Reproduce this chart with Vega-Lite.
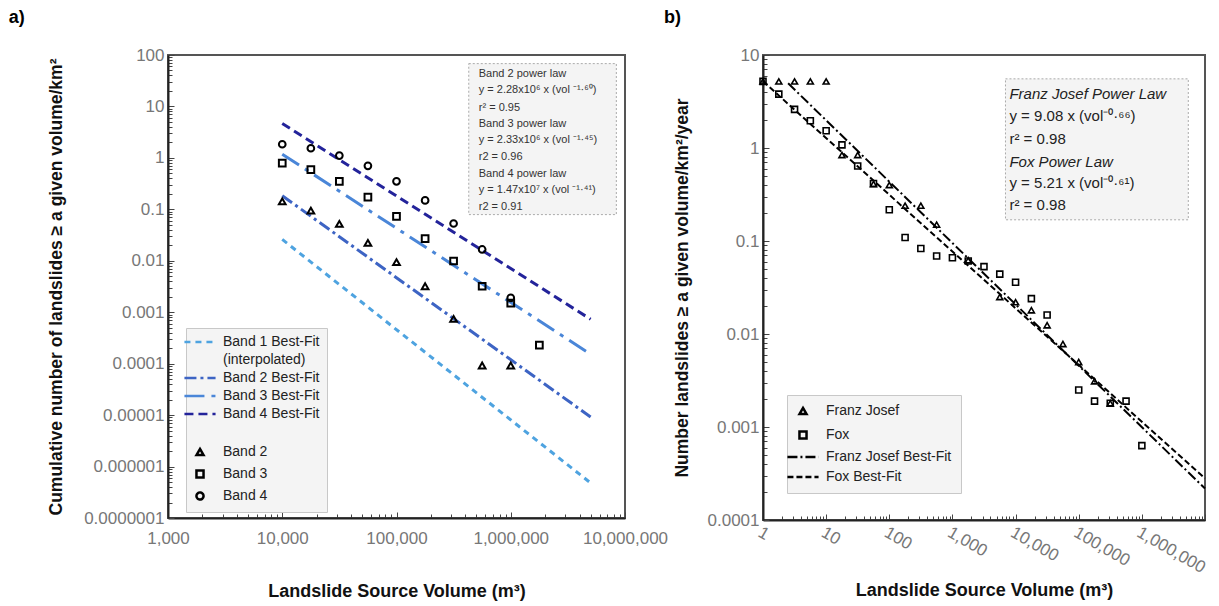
{
  "$schema": "https://vega.github.io/schema/vega-lite/v6.json",
  "background": "white",
  "padding": {"left": 7, "top": 8, "right": 5, "bottom": 5},
  "bounds": "flush",
  "spacing": 138,
  "resolve": {
    "scale": {"x": "independent", "y": "independent", "color": "independent", "shape": "independent", "strokeDash": "independent"},
    "legend": {"color": "independent", "shape": "independent", "strokeDash": "independent"}
  },
  "config": {
    "font": "Liberation Sans",
    "view": {"stroke": "#555", "strokeWidth": 2},
    "axis": {
      "grid": false,
      "labelColor": "#777",
      "labelFontSize": 17,
      "titleFontSize": 17.5,
      "titleFontWeight": "bold",
      "titleColor": "#111",
      "domainColor": "#222",
      "domainWidth": 2,
      "tickColor": "#444",
      "tickWidth": 1,
      "labelOverlap": false,
      "labelFlush": false
    },
    "legend": {
      "labelFont": "Liberation Sans",
      "labelColor": "#222",
      "labelFontSize": 14,
      "symbolStrokeWidth": 2.5,
      "symbolSize": 50
    },
    "title": {"fontSize": 18, "fontWeight": "bold", "color": "#000"}
  },
  "datasets": {
    "a_pts": [
      {"entry": "Band 4", "vol": 10000, "n": 1.84},
      {"entry": "Band 4", "vol": 17800, "n": 1.54},
      {"entry": "Band 4", "vol": 31600, "n": 1.11},
      {"entry": "Band 4", "vol": 56200, "n": 0.70},
      {"entry": "Band 4", "vol": 100000, "n": 0.35},
      {"entry": "Band 4", "vol": 178000, "n": 0.149},
      {"entry": "Band 4", "vol": 316000, "n": 0.053},
      {"entry": "Band 4", "vol": 562000, "n": 0.0166},
      {"entry": "Band 4", "vol": 1000000, "n": 0.0019},
      {"entry": "Band 3", "vol": 10000, "n": 0.79},
      {"entry": "Band 3", "vol": 17800, "n": 0.59},
      {"entry": "Band 3", "vol": 31600, "n": 0.35},
      {"entry": "Band 3", "vol": 56200, "n": 0.173},
      {"entry": "Band 3", "vol": 100000, "n": 0.073},
      {"entry": "Band 3", "vol": 178000, "n": 0.027},
      {"entry": "Band 3", "vol": 316000, "n": 0.0099},
      {"entry": "Band 3", "vol": 562000, "n": 0.0032},
      {"entry": "Band 3", "vol": 1000000, "n": 0.0015},
      {"entry": "Band 3", "vol": 1780000, "n": 0.00023},
      {"entry": "Band 2", "vol": 10000, "n": 0.143},
      {"entry": "Band 2", "vol": 17800, "n": 0.094},
      {"entry": "Band 2", "vol": 31600, "n": 0.052},
      {"entry": "Band 2", "vol": 56200, "n": 0.0223},
      {"entry": "Band 2", "vol": 100000, "n": 0.0094},
      {"entry": "Band 2", "vol": 178000, "n": 0.0032},
      {"entry": "Band 2", "vol": 316000, "n": 0.00074},
      {"entry": "Band 2", "vol": 562000, "n": 0.000092},
      {"entry": "Band 2", "vol": 1000000, "n": 0.000092}
    ],
    "a_fit": [
      {"entry": "Band 1 Best-Fit", "vol": 10000, "n": 0.026},
      {"entry": "Band 1 Best-Fit", "vol": 5000000, "n": 0.00000048},
      {"entry": "Band 2 Best-Fit", "vol": 10000, "n": 0.184},
      {"entry": "Band 2 Best-Fit", "vol": 5000000, "n": 0.0000092},
      {"entry": "Band 3 Best-Fit", "vol": 10000, "n": 1.18},
      {"entry": "Band 3 Best-Fit", "vol": 5000000, "n": 0.000153},
      {"entry": "Band 4 Best-Fit", "vol": 10000, "n": 4.68},
      {"entry": "Band 4 Best-Fit", "vol": 5000000, "n": 0.00073}
    ],
    "a_box": [{"vol": 429000, "vol2": 8400000, "n": 68, "n2": 0.079}],
    "a_note": [
      {"vol": 525000, "n": 42.3, "text": "Band 2 power law"},
      {"vol": 525000, "n": 20.7, "text": "y = 2.28x10⁶  x (vol ⁻¹·⁶⁰)"},
      {"vol": 525000, "n": 9.42, "text": "r² = 0.95"},
      {"vol": 525000, "n": 4.48, "text": "Band 3 power law"},
      {"vol": 525000, "n": 2.23, "text": "y = 2.33x10⁶  x (vol ⁻¹·⁴⁵)"},
      {"vol": 525000, "n": 1.03, "text": "r2 = 0.96"},
      {"vol": 525000, "n": 0.482, "text": "Band 4 power law"},
      {"vol": 525000, "n": 0.241, "text": "y = 1.47x10⁷  x (vol ⁻¹·⁴¹)"},
      {"vol": 525000, "n": 0.111, "text": "r2 = 0.91"}
    ],
    "b_pts": [
      {"entry": "Fox", "vol": 1, "n": 5.2},
      {"entry": "Fox", "vol": 1.78, "n": 3.8},
      {"entry": "Fox", "vol": 3.16, "n": 2.6},
      {"entry": "Fox", "vol": 5.62, "n": 1.96},
      {"entry": "Fox", "vol": 10, "n": 1.53},
      {"entry": "Fox", "vol": 17.8, "n": 1.08},
      {"entry": "Fox", "vol": 31.6, "n": 0.64},
      {"entry": "Fox", "vol": 56.2, "n": 0.415},
      {"entry": "Fox", "vol": 100, "n": 0.217},
      {"entry": "Fox", "vol": 178, "n": 0.109},
      {"entry": "Fox", "vol": 316, "n": 0.083},
      {"entry": "Fox", "vol": 562, "n": 0.069},
      {"entry": "Fox", "vol": 1000, "n": 0.066},
      {"entry": "Fox", "vol": 1780, "n": 0.061},
      {"entry": "Fox", "vol": 3160, "n": 0.053},
      {"entry": "Fox", "vol": 5620, "n": 0.044},
      {"entry": "Fox", "vol": 10000, "n": 0.036},
      {"entry": "Fox", "vol": 17800, "n": 0.024},
      {"entry": "Fox", "vol": 31600, "n": 0.016},
      {"entry": "Fox", "vol": 100000, "n": 0.0025},
      {"entry": "Fox", "vol": 178000, "n": 0.0019},
      {"entry": "Fox", "vol": 316000, "n": 0.0018},
      {"entry": "Fox", "vol": 562000, "n": 0.0019},
      {"entry": "Fox", "vol": 1000000, "n": 0.00063},
      {"entry": "Franz Josef", "vol": 1, "n": 5.2},
      {"entry": "Franz Josef", "vol": 1.78, "n": 5.2},
      {"entry": "Franz Josef", "vol": 3.16, "n": 5.2},
      {"entry": "Franz Josef", "vol": 5.62, "n": 5.2},
      {"entry": "Franz Josef", "vol": 10, "n": 5.2},
      {"entry": "Franz Josef", "vol": 17.8, "n": 0.84},
      {"entry": "Franz Josef", "vol": 31.6, "n": 0.84},
      {"entry": "Franz Josef", "vol": 56.2, "n": 0.41},
      {"entry": "Franz Josef", "vol": 100, "n": 0.40},
      {"entry": "Franz Josef", "vol": 178, "n": 0.24},
      {"entry": "Franz Josef", "vol": 316, "n": 0.24},
      {"entry": "Franz Josef", "vol": 562, "n": 0.15},
      {"entry": "Franz Josef", "vol": 1780, "n": 0.062},
      {"entry": "Franz Josef", "vol": 5620, "n": 0.025},
      {"entry": "Franz Josef", "vol": 10000, "n": 0.022},
      {"entry": "Franz Josef", "vol": 17800, "n": 0.018},
      {"entry": "Franz Josef", "vol": 31600, "n": 0.0124},
      {"entry": "Franz Josef", "vol": 56200, "n": 0.0078},
      {"entry": "Franz Josef", "vol": 100000, "n": 0.005},
      {"entry": "Franz Josef", "vol": 178000, "n": 0.0031},
      {"entry": "Franz Josef", "vol": 316000, "n": 0.0018}
    ],
    "b_fit": [
      {"entry": "Franz Josef Best-Fit", "vol": 2.5, "n": 4.96},
      {"entry": "Franz Josef Best-Fit", "vol": 10000000, "n": 0.000218},
      {"entry": "Fox Best-Fit", "vol": 1, "n": 5.21},
      {"entry": "Fox Best-Fit", "vol": 10000000, "n": 0.00028}
    ],
    "b_box": [{"vol": 6920, "vol2": 5440000, "n": 5.54, "n2": 0.169}],
    "b_note": [
      {"vol": 8000, "n": 3.81, "text": "Franz Josef  Power  Law", "it": true},
      {"vol": 8000, "n": 2.23, "text": "y = 9.08 x (vol⁻⁰·⁶⁶)", "it": false},
      {"vol": 8000, "n": 1.24, "text": "r² = 0.98", "it": false},
      {"vol": 8000, "n": 0.712, "text": "Fox Power Law", "it": true},
      {"vol": 8000, "n": 0.422, "text": "y = 5.21 x (vol⁻⁰·⁶¹)", "it": false},
      {"vol": 8000, "n": 0.242, "text": "r² = 0.98", "it": false}
    ]
  },
  "hconcat": [
    {
      "width": 457,
      "height": 463,
      "title": {"text": "a)", "anchor": "start", "dx": -39, "offset": 19},
      "encoding": {
        "x": {
          "field": "vol", "type": "quantitative",
          "scale": {"type": "log", "domain": [1000, 10000000], "nice": false},
          "axis": {
            "title": "Landslide Source Volume (m³)",
            "titleFontSize": 18,
            "titlePadding": 34,
            "values": [1000,2000,3000,4000,5000,6000,7000,8000,9000,10000,20000,30000,40000,50000,60000,70000,80000,90000,100000,200000,300000,400000,500000,600000,700000,800000,900000,1000000,2000000,3000000,4000000,5000000,6000000,7000000,8000000,9000000,10000000],
            "labelExpr": "abs(log(datum.value)/LN10 - round(log(datum.value)/LN10)) < 0.000001 ? format(datum.value, ',') : ''",
            "tickSize": {"condition": {"test": "abs(log(datum.value)/LN10 - round(log(datum.value)/LN10)) < 0.000001", "value": -6}, "value": -4},
            "labelPadding": 18
          }
        },
        "y": {
          "field": "n", "type": "quantitative",
          "scale": {"type": "log", "domain": [0.0000001, 100], "nice": false},
          "axis": {
            "title": "Cumulative number of landslides ≥ a given volume/km²",
            "titlePadding": 18,
            "values": [0.0000001,0.0000002,0.0000003,0.0000004,0.0000005,0.0000006,0.0000007,0.0000008,0.0000009,0.000001,0.000002,0.000003,0.000004,0.000005,0.000006,0.000007,0.000008,0.000009,0.00001,0.00002,0.00003,0.00004,0.00005,0.00006,0.00007,0.00008,0.00009,0.0001,0.0002,0.0003,0.0004,0.0005,0.0006,0.0007,0.0008,0.0009,0.001,0.002,0.003,0.004,0.005,0.006,0.007,0.008,0.009,0.01,0.02,0.03,0.04,0.05,0.06,0.07,0.08,0.09,0.1,0.2,0.3,0.4,0.5,0.6,0.7,0.8,0.9,1,2,3,4,5,6,7,8,9,10,20,30,40,50,60,70,80,90,100],
            "labelExpr": "abs(log(datum.value)/LN10 - round(log(datum.value)/LN10)) < 0.000001 ? (datum.value >= 1 ? format(datum.value, ',') : format(datum.value, '.' + round(-log(datum.value)/LN10) + 'f')) : ''",
            "tickSize": {"condition": {"test": "abs(log(datum.value)/LN10 - round(log(datum.value)/LN10)) < 0.000001", "value": -6}, "value": -4},
            "labelPadding": 10
          }
        }
      },
      "layer": [
        {
          "data": {"name": "a_box"},
          "mark": {"type": "rect", "fill": "#f4f4f4", "stroke": "#aaa", "strokeDash": [2, 2], "strokeWidth": 1},
          "encoding": {"x2": {"field": "vol2"}, "y2": {"field": "n2"}}
        },
        {
          "data": {"name": "a_note"},
          "mark": {"type": "text", "align": "left", "baseline": "middle", "fontSize": 11, "color": "#333"},
          "encoding": {"text": {"field": "text"}}
        },
        {
          "data": {"name": "a_fit"},
          "mark": {"type": "line", "strokeWidth": 3},
          "encoding": {
            "color": {
              "field": "entry", "type": "nominal",
              "scale": {
                "domain": ["Band 1 Best-Fit", "(interpolated)", "Band 2 Best-Fit", "Band 3 Best-Fit", "Band 4 Best-Fit", "gap", "Band 2", "Band 3", "Band 4"],
                "range": ["#4ea3e0", "rgba(0,0,0,0)", "#3d64c4", "#4a86d8", "#23239a", "rgba(0,0,0,0)", "#000", "#000", "#000"]
              },
              "legend": {
                "title": null,
                "orient": "none",
                "legendX": 18,
                "legendY": 273,
                "fillColor": "#f4f4f4",
                "strokeColor": "#c8c8c8",
                "padding": 7,
                "rowPadding": 4,
                "labelOffset": 16,
                "labelExpr": "datum.label == 'gap' ? '' : datum.label"
              }
            },
            "strokeDash": {
              "field": "entry", "type": "nominal",
              "scale": {
                "domain": ["Band 1 Best-Fit", "(interpolated)", "Band 2 Best-Fit", "Band 3 Best-Fit", "Band 4 Best-Fit", "gap", "Band 2", "Band 3", "Band 4"],
                "range": [[6, 5], [1, 0], [12, 4, 3, 4], [20, 7, 4, 7], [9, 5], [1, 0], [1, 0], [1, 0], [1, 0]]
              }
            }
          }
        },
        {
          "data": {"name": "a_pts"},
          "mark": {"type": "point", "filled": false, "strokeWidth": 2, "size": 45, "opacity": 1},
          "encoding": {
            "color": {
              "field": "entry", "type": "nominal",
              "scale": {
                "domain": ["Band 1 Best-Fit", "(interpolated)", "Band 2 Best-Fit", "Band 3 Best-Fit", "Band 4 Best-Fit", "gap", "Band 2", "Band 3", "Band 4"],
                "range": ["#4ea3e0", "rgba(0,0,0,0)", "#3d64c4", "#4a86d8", "#23239a", "rgba(0,0,0,0)", "#000", "#000", "#000"]
              }
            },
            "shape": {
              "field": "entry", "type": "nominal",
              "scale": {
                "domain": ["Band 1 Best-Fit", "(interpolated)", "Band 2 Best-Fit", "Band 3 Best-Fit", "Band 4 Best-Fit", "gap", "Band 2", "Band 3", "Band 4"],
                "range": ["M-4.4,0L4.4,0", "M-4.4,0L4.4,0", "M-4.4,0L4.4,0", "M-4.4,0L4.4,0", "M-4.4,0L4.4,0", "M-4.4,0L4.4,0", "triangle-up", "square", "circle"]
              }
            }
          }
        }
      ]
    },
    {
      "width": 442,
      "height": 465,
      "title": {"text": "b)", "anchor": "start", "dx": -9, "offset": 19},
      "encoding": {
        "x": {
          "field": "vol", "type": "quantitative",
          "scale": {"type": "log", "domain": [1, 10000000], "nice": false},
          "axis": {
            "title": "Landslide Source Volume (m³)",
            "titleFontSize": 18,
            "titlePadding": 6,
            "values": [1,2,3,4,5,6,7,8,9,10,20,30,40,50,60,70,80,90,100,200,300,400,500,600,700,800,900,1000,2000,3000,4000,5000,6000,7000,8000,9000,10000,20000,30000,40000,50000,60000,70000,80000,90000,100000,200000,300000,400000,500000,600000,700000,800000,900000,1000000,2000000,3000000,4000000,5000000,6000000,7000000,8000000,9000000,10000000],
            "labelExpr": "abs(log(datum.value)/LN10 - round(log(datum.value)/LN10)) < 0.000001 && datum.value < 5000000 ? format(datum.value, ',') : ''",
            "tickSize": {"condition": {"test": "abs(log(datum.value)/LN10 - round(log(datum.value)/LN10)) < 0.000001", "value": -6}, "value": -4},
            "labelAngle": 30,
            "labelAlign": "left",
            "labelBaseline": "top",
            "labelPadding": 10
          }
        },
        "y": {
          "field": "n", "type": "quantitative",
          "scale": {"type": "log", "domain": [0.0001, 10], "nice": false},
          "axis": {
            "title": "Number landslides ≥ a given volume/km²/year",
            "titlePadding": 16,
            "values": [0.0001,0.0002,0.0003,0.0004,0.0005,0.0006,0.0007,0.0008,0.0009,0.001,0.002,0.003,0.004,0.005,0.006,0.007,0.008,0.009,0.01,0.02,0.03,0.04,0.05,0.06,0.07,0.08,0.09,0.1,0.2,0.3,0.4,0.5,0.6,0.7,0.8,0.9,1,2,3,4,5,6,7,8,9,10],
            "labelExpr": "abs(log(datum.value)/LN10 - round(log(datum.value)/LN10)) < 0.000001 ? (datum.value >= 1 ? format(datum.value, ',') : format(datum.value, '.' + round(-log(datum.value)/LN10) + 'f')) : ''",
            "tickSize": {"condition": {"test": "abs(log(datum.value)/LN10 - round(log(datum.value)/LN10)) < 0.000001", "value": -6}, "value": -4},
            "labelPadding": 10
          }
        }
      },
      "layer": [
        {
          "data": {"name": "b_box"},
          "mark": {"type": "rect", "fill": "#f4f4f4", "stroke": "#aaa", "strokeDash": [2, 2], "strokeWidth": 1},
          "encoding": {"x2": {"field": "vol2"}, "y2": {"field": "n2"}}
        },
        {
          "data": {"name": "b_note"},
          "transform": [{"filter": "datum.it"}],
          "mark": {"type": "text", "align": "left", "baseline": "middle", "fontSize": 15, "fontStyle": "italic", "color": "#222"},
          "encoding": {"text": {"field": "text"}}
        },
        {
          "data": {"name": "b_note"},
          "transform": [{"filter": "!datum.it"}],
          "mark": {"type": "text", "align": "left", "baseline": "middle", "fontSize": 15, "color": "#222"},
          "encoding": {"text": {"field": "text"}}
        },
        {
          "data": {"name": "b_fit"},
          "mark": {"type": "line", "strokeWidth": 2},
          "encoding": {
            "color": {
              "field": "entry", "type": "nominal",
              "scale": {"domain": ["Franz Josef", "Fox", "Franz Josef Best-Fit", "Fox Best-Fit"], "range": ["#000", "#000", "#000", "#000"]},
              "legend": {
                "title": null,
                "orient": "none",
                "legendX": 24,
                "legendY": 340,
                "fillColor": "#f4f4f4",
                "strokeColor": "#c8c8c8",
                "padding": 9,
                "rowPadding": 6,
                "labelOffset": 16
              }
            },
            "strokeDash": {
              "field": "entry", "type": "nominal",
              "scale": {"domain": ["Franz Josef", "Fox", "Franz Josef Best-Fit", "Fox Best-Fit"], "range": [[1, 0], [1, 0], [10, 3, 2, 3], [6, 3]]}
            }
          }
        },
        {
          "data": {"name": "b_pts"},
          "mark": {"type": "point", "filled": false, "strokeWidth": 1.6, "size": 36, "opacity": 1},
          "encoding": {
            "color": {
              "field": "entry", "type": "nominal",
              "scale": {"domain": ["Franz Josef", "Fox", "Franz Josef Best-Fit", "Fox Best-Fit"], "range": ["#000", "#000", "#000", "#000"]}
            },
            "shape": {
              "field": "entry", "type": "nominal",
              "scale": {"domain": ["Franz Josef", "Fox", "Franz Josef Best-Fit", "Fox Best-Fit"], "range": ["triangle-up", "square", "M-4.4,0L4.4,0", "M-4.4,0L4.4,0"]}
            }
          }
        }
      ]
    }
  ]
}
